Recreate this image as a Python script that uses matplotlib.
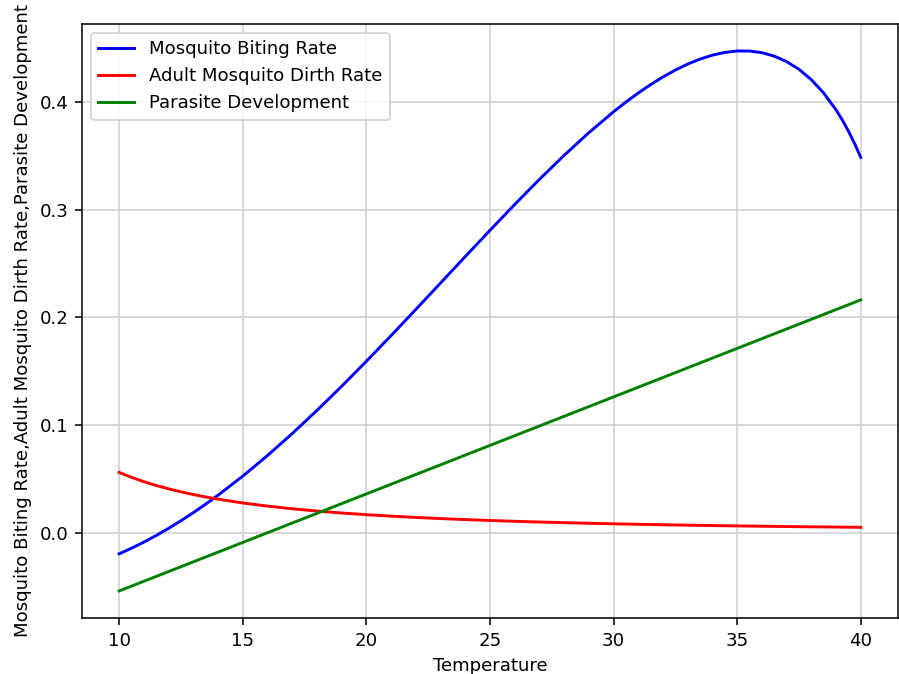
import matplotlib
matplotlib.use("Agg")
import matplotlib.pyplot as plt

plt.rcParams['font.size'] = 9.3

biting_temps = [10, 10.5, 11, 11.5, 12, 12.5, 13, 13.5, 14, 15, 16, 17, 18, 19, 20,
                21, 22, 23, 24, 25, 26, 27, 28, 29, 30, 30.5, 31, 31.5, 32, 32.5,
                33, 33.5, 34, 34.5, 35, 35.5, 36, 36.5, 37, 37.5, 38, 38.5, 39,
                39.25, 39.5, 39.75, 40]
biting = [-0.01962, -0.01442, -0.00875, -0.00259, 0.00402, 0.01108, 0.01857, 0.02647,
          0.03477, 0.05250, 0.07163, 0.09200, 0.11348, 0.13591, 0.15913,
          0.18297, 0.20725, 0.23178, 0.25636, 0.28074, 0.30472, 0.32802, 0.35035,
          0.37142, 0.39086, 0.39985, 0.40827, 0.41609, 0.42322, 0.42959,
          0.43514, 0.43978, 0.44343, 0.44596, 0.44730, 0.44726, 0.44574, 0.44254,
          0.43748, 0.43030, 0.42069, 0.40830, 0.39263,
          0.38337, 0.37300, 0.36144, 0.34848]

death_temps = [10, 10.5, 11, 11.5, 12, 12.5, 13, 13.5, 14, 15, 16, 17, 18, 19, 20,
               21, 22, 23, 24, 25, 26, 27, 28, 29, 30, 31, 32, 33, 34, 35, 36,
               37, 38, 39, 40]
death = [0.0560, 0.05144, 0.04744, 0.04391, 0.04078, 0.03798, 0.03548, 0.03322,
         0.03119, 0.02765, 0.02472, 0.02225, 0.02014, 0.01833, 0.01677,
         0.01540, 0.01420, 0.01314, 0.01221, 0.01137, 0.01062, 0.00994, 0.00934,
         0.00878, 0.00828, 0.00782, 0.00740, 0.00701, 0.00666, 0.00633, 0.00603,
         0.00575, 0.00549, 0.00525, 0.00502]

parasite_temps = [10, 20, 30, 40]
parasite = [-0.0541, 0.0360, 0.1261, 0.2162]

fig = plt.figure(figsize=(899/140, 674/140), dpi=140)
ax = fig.add_axes([0.0912, 0.0831, 0.9075, 0.8813])
ax.plot(biting_temps, biting, color="blue", label="Mosquito Biting Rate")
ax.plot(death_temps, death, color="red", label="Adult Mosquito Dirth Rate")
ax.plot(parasite_temps, parasite, color="green", label="Parasite Development")
ax.set_xlabel("Temperature")
ax.set_ylabel("Mosquito Biting Rate,Adult Mosquito Dirth Rate,Parasite Development")
ax.set_yticks([0.0, 0.1, 0.2, 0.3, 0.4])
ax.grid(True, color="#cfcfcf")
ax.legend(loc="upper left")
fig.savefig("out.png", dpi=140)
